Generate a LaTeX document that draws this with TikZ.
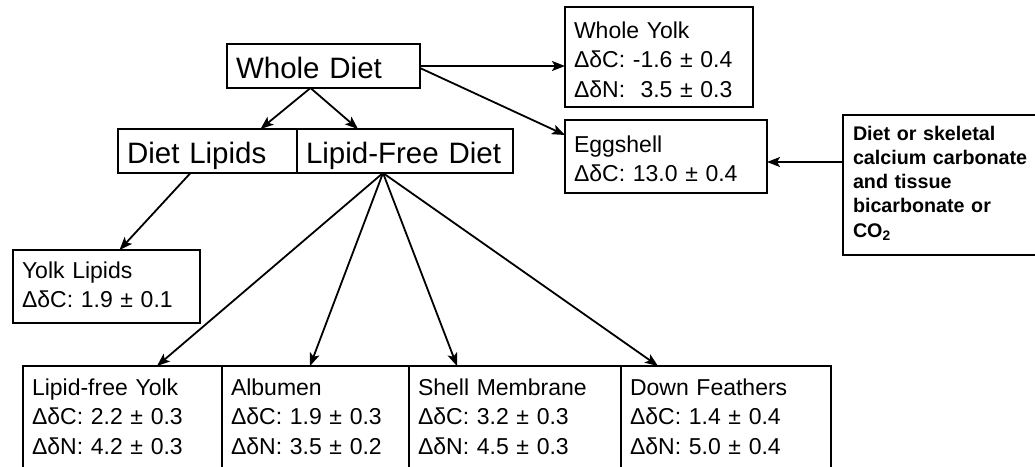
\documentclass[tikz,border=0pt]{standalone}
\usepackage{fontspec}
\setmainfont{Liberation Sans}
\usepackage{tikz}
\usetikzlibrary{arrows.meta, positioning}

\begin{document}
\begin{tikzpicture}[
  x=1pt, y=-1pt,
  box/.style={draw, line width=1.3pt, outer sep=0pt, inner ysep=0pt, anchor=north west, align=left},
  mainbox/.style={box, inner xsep=9pt, font=\fontsize{29.5}{35}\selectfont, text height=34pt, text depth=10pt},
  detail/.style={box, inner xsep=9pt, font=\fontsize{23}{29.5}\selectfont},
  source/.style={box, inner xsep=10pt, font=\fontsize{19.7}{24.3}\selectfont\bfseries},
  arrow/.style={-{Stealth[length=13pt, width=10pt, inset=3pt]}, line width=1.8pt},
]
\useasboundingbox (0,0) rectangle (1035,466);

% Diet
\node[mainbox, text width=175pt] (wdiet) at (227,44) {Whole Diet};
\node[mainbox, text width=161pt] (dlipids) at (118,129) {Diet Lipids};
\node[mainbox, text width=198pt, right=0pt of dlipids] (lfdiet) {Lipid-Free Diet};

% Yolk and shell
\node[detail, text width=170pt, text height=31pt, text depth=69pt] (wyolk) at (565,7) {Whole Yolk\\ΔδC: -1.6 ± 0.4\\ΔδN: \ 3.5 ± 0.3};
\node[detail, text width=184pt, text height=32pt, text depth=41pt] (eggshell) at (565,120) {Eggshell\\ΔδC: 13.0 ± 0.4};
\node[detail, text width=169pt, text height=28pt, text depth=45pt] (ylipids) at (13,250) {Yolk Lipids\\ΔδC: 1.9 ± 0.1};

% Carbonate source
\node[source, text width=184pt, text height=25pt, text depth=115pt] (carbon) at (843,115) {Diet or skeletal\\calcium carbonate\\and tissue\\bicarbonate or\\CO\textsubscript{2}};

% Tissues
\node[detail, text width=181pt, text height=29pt, text depth=110pt] (yfree) at (23,366) {Lipid-free Yolk\\ΔδC: 2.2 ± 0.3\\ΔδN: 4.2 ± 0.3};
\node[detail, text width=169pt, text height=29pt, text depth=110pt, right=0pt of yfree] (albumen) {Albumen\\ΔδC: 1.9 ± 0.3\\ΔδN: 3.5 ± 0.2};
\node[detail, text width=194pt, text height=29pt, text depth=110pt, right=0pt of albumen] (shell) {Shell Membrane\\ΔδC: 3.2 ± 0.3\\ΔδN: 4.5 ± 0.3};
\node[detail, text width=192pt, text height=29pt, text depth=110pt, right=0pt of shell] (down) {Down Feathers\\ΔδC: 1.4 ± 0.4\\ΔδN: 5.0 ± 0.4};

% Arrows
\draw[arrow] ([xshift=-13pt]wdiet.south) -- ([xshift=53pt]dlipids.north);
\draw[arrow] ([xshift=-13pt]wdiet.south) -- ([xshift=-47pt]lfdiet.north);
\draw[arrow] (wdiet.east) -- (wdiet.east -| wyolk.west);
\draw[arrow] ([yshift=-2pt]wdiet.east) -- ([yshift=21.5pt]eggshell.west);
\coordinate (eggin) at ([yshift=-5.5pt]eggshell.east);
\draw[arrow] (eggin -| carbon.west) -- (eggin);
\draw[arrow] ([xshift=-17pt]dlipids.south) -- ([xshift=13pt]ylipids.north);
\foreach \dest/\dx in {yfree/34.5, albumen/-5.5, shell/-58, down/-68}
  \draw[arrow] ([xshift=-22pt]lfdiet.south) -- ([xshift=\dx pt]\dest.north);

\end{tikzpicture}
\end{document}
